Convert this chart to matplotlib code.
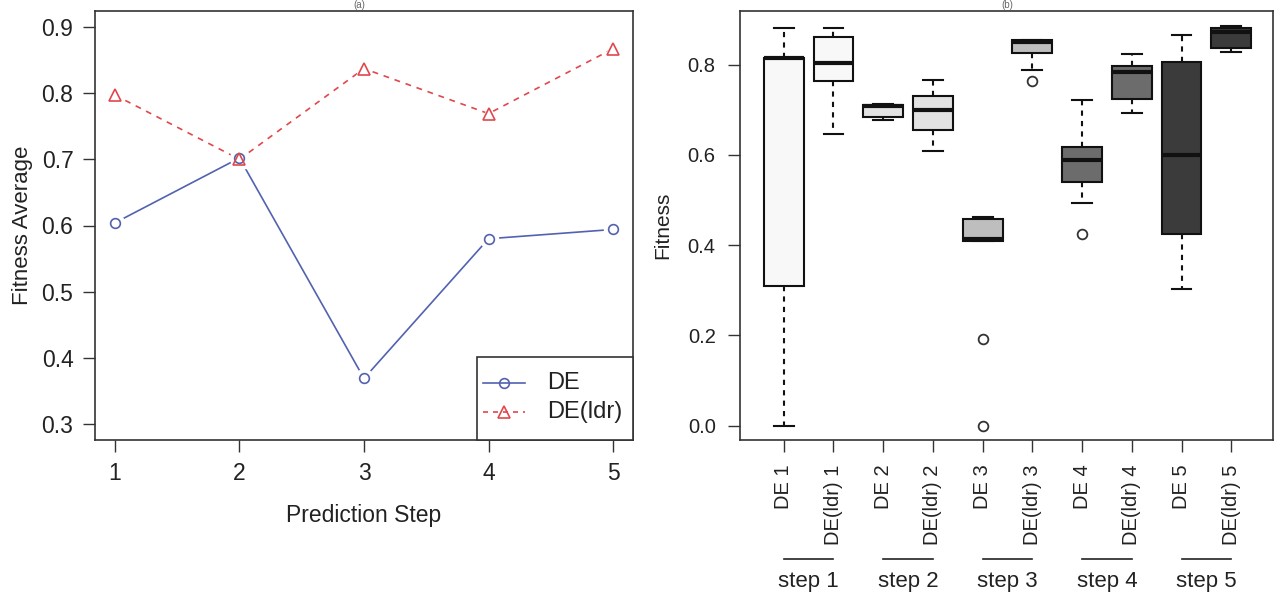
import matplotlib
matplotlib.use("Agg")
import matplotlib.pyplot as plt
from matplotlib.lines import Line2D
from matplotlib.patches import Rectangle
import matplotlib.transforms as mtransforms

plt.rcParams['font.family'] = ['Liberation Sans', 'DejaVu Sans']

# ---------------- data ----------------
steps = [1, 2, 3, 4, 5]
de_avg = [0.604, 0.702, 0.369, 0.580, 0.594]
ldr_avg = [0.797, 0.700, 0.837, 0.769, 0.867]
left_yticks = [0.3, 0.4, 0.5, 0.6, 0.7, 0.8, 0.9]
legend_labels = ['DE', 'DE(ldr)']

box_labels = ['DE 1', 'DE(ldr) 1', 'DE 2', 'DE(ldr) 2', 'DE 3', 'DE(ldr) 3',
              'DE 4', 'DE(ldr) 4', 'DE 5', 'DE(ldr) 5']
box_whislo = [0.000, 0.647, 0.678, 0.608, 0.410, 0.789, 0.494, 0.693, 0.302, 0.828]
box_q1 = [0.310, 0.763, 0.685, 0.655, 0.410, 0.827, 0.540, 0.724, 0.424, 0.838]
box_med = [0.815, 0.804, 0.708, 0.700, 0.413, 0.851, 0.588, 0.784, 0.600, 0.873]
box_q3 = [0.815, 0.862, 0.710, 0.731, 0.459, 0.855, 0.617, 0.797, 0.805, 0.882]
box_whishi = [0.881, 0.881, 0.713, 0.766, 0.463, 0.855, 0.721, 0.824, 0.866, 0.886]
box_fliers = [[], [], [], [], [0.193, 0.0], [0.764], [0.424], [], [], []]
step_labels = ['step 1', 'step 2', 'step 3', 'step 4', 'step 5']
right_yticks = [0.0, 0.2, 0.4, 0.6, 0.8]

box_colors = ['#f8f8f8', '#f8f8f8', '#e2e2e2', '#e2e2e2', '#bebebe', '#bebebe',
              '#6c6c6c', '#6c6c6c', '#3b3b3b', '#3b3b3b']

blue = '#5262b0'
red = '#e0484c'
frame = '#333333'
txt = '#222222'

W, H = 1275, 595
fig = plt.figure(figsize=(W / 100, H / 100), dpi=100)

def px_axes(l, t, r, b):
    return fig.add_axes([l / W, 1 - b / H, (r - l) / W, (b - t) / H])

# ---------------- left panel ----------------
L1, T1, R1, B1 = 95, 11, 633, 440
ax1 = px_axes(L1, T1, R1, B1)
ax1.plot(steps, de_avg, '-', color=blue, lw=1.2, zorder=2)
ax1.plot(steps, ldr_avg, '--', color=red, lw=1.2, dashes=(3.5, 3.5), zorder=2)
ax1.plot(steps, de_avg, ls='none', marker='o', ms=13, mfc='white', mec='white', zorder=3)
ax1.plot(steps, ldr_avg, ls='none', marker='^', ms=13, mfc='white', mec='white', zorder=3)
ax1.plot(steps, de_avg, ls='none', marker='o', ms=7, mfc='none', mec=blue, mew=1.2, zorder=4)
ax1.plot(steps, ldr_avg, ls='none', marker='^', ms=8, mfc='none', mec=red, mew=1.2, zorder=4)

ax1.set_xlim(0.84, 5.16)
ax1.set_ylim(0.276, 0.924)
ax1.set_xticks(steps)
ax1.set_xticklabels([str(s) for s in steps])
ax1.set_yticks(left_yticks)
ax1.set_yticklabels([f'{v:.1f}' for v in left_yticks])
ax1.tick_params(direction='out', length=8.5, width=1.0, color=frame,
                labelsize=16.5, pad=7, labelcolor=txt)
for s in ax1.spines.values():
    s.set_color(frame)
    s.set_linewidth(1.2)
ax1.set_xlabel('Prediction Step', fontsize=16.5, color=txt)
ax1.xaxis.set_label_coords(0.5, -0.175)
ax1.xaxis.label.set_va('center')
ax1.set_ylabel('Fitness Average', fontsize=16, color=txt)
ax1.yaxis.set_label_coords(-0.135, 0.5)
ax1.yaxis.label.set_va('center')

# legend box (drawn in axes pixel geometry)
def axx(px):
    return (px - L1) / (R1 - L1)

def axy(py):
    return (B1 - py) / (B1 - T1)

ax1.add_patch(Rectangle((axx(477), axy(440)), axx(633) - axx(477), axy(357) - axy(440),
                        transform=ax1.transAxes, facecolor='white', edgecolor=frame,
                        lw=1.2, zorder=6, clip_on=False))
leg_rows = [(383, blue, '-', 'o', 7, legend_labels[0]),
            (412, red, '--', '^', 8, legend_labels[1])]
for py, col, ls, mk, ms, lab in leg_rows:
    ax1.add_line(Line2D([axx(483), axx(525)], [axy(py), axy(py)], transform=ax1.transAxes,
                        color=col, lw=1.2, ls=ls, dashes=(3, 3) if ls == '--' else (None, None),
                        zorder=7))
    ax1.add_line(Line2D([axx(504)], [axy(py)], transform=ax1.transAxes, ls='none',
                        marker=mk, ms=ms, mfc='none', mec=col, mew=1.2, zorder=8))
    ax1.text(axx(547), axy(py), lab, transform=ax1.transAxes, fontsize=17,
             ha='left', va='center', color=txt, zorder=8)

fig.text(359 / W, 1.0, '(a)', fontsize=7, ha='center', va='top', color='#666666')

# ---------------- right panel ----------------
ax2 = px_axes(740, 11, 1273, 440)
positions = list(range(1, len(box_labels) + 1))
stats = []
for i in range(len(box_labels)):
    stats.append(dict(whislo=box_whislo[i], q1=box_q1[i], med=box_med[i],
                      q3=box_q3[i], whishi=box_whishi[i], fliers=box_fliers[i],
                      label=box_labels[i]))
bp = ax2.bxp(stats, positions=positions, widths=0.8, capwidths=0.4,
             patch_artist=True, showfliers=True,
             boxprops=dict(edgecolor='#111111', linewidth=1.5),
             whiskerprops=dict(color='#111111', linewidth=1.5, linestyle=(0, (2.5, 2.5))),
             capprops=dict(color='#111111', linewidth=1.5),
             medianprops=dict(color='#111111', linewidth=3.0, solid_capstyle='butt'),
             flierprops=dict(marker='o', ms=7, mfc='none', mec='#333333', mew=1.3))
for patch, c in zip(bp['boxes'], box_colors):
    patch.set_facecolor(c)

ax2.set_xlim(0.12, 10.84)
ax2.set_ylim(-0.0317, 0.919)
ax2.set_yticks(right_yticks)
ax2.set_yticklabels([f'{v:.1f}' for v in right_yticks])
ax2.set_xticks(positions)
ax2.set_xticklabels(box_labels, rotation=90, va='top', ha='center')
ax2.tick_params(direction='out', length=8.5, width=1.0, color=frame,
                labelsize=14.5, pad=9, labelcolor=txt)
for s in ax2.spines.values():
    s.set_color(frame)
    s.set_linewidth(1.2)
ax2.set_ylabel('Fitness', fontsize=15, color=txt)
ax2.yaxis.set_label_coords(-0.144, 0.5)
ax2.yaxis.label.set_va('center')

trans = mtransforms.blended_transform_factory(ax2.transData, ax2.transAxes)
line_y = (440 - 559) / 429
text_y = (440 - 582) / 429
for k, lab in enumerate(step_labels):
    x0 = positions[2 * k]
    x1 = positions[2 * k + 1]
    ax2.plot([x0, x1], [line_y, line_y], color=txt, lw=1.2,
             transform=trans, clip_on=False)
    ax2.text((x0 + x1) / 2, text_y, lab, transform=trans, ha='center',
             va='center', fontsize=16, color=txt)

fig.text(1007 / W, 1.0, '(b)', fontsize=7, ha='center', va='top', color='#666666')

fig.savefig('out.png', dpi=100)
